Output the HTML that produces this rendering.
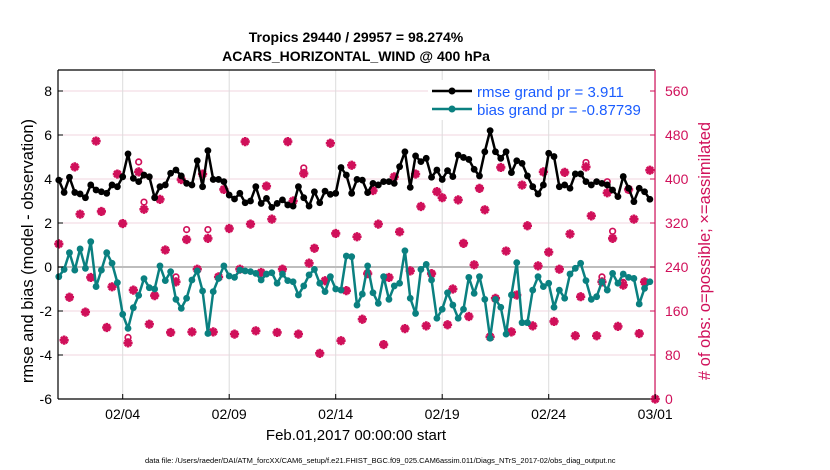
<!DOCTYPE html>
<html><head><meta charset="utf-8"><style>
body{margin:0;background:#fff;}
svg{display:block;font-family:"Liberation Sans",sans-serif;}
</style></head><body>
<svg id="chart" width="830" height="470" viewBox="0 0 830 470">
<text x="356" y="42" font-size="14" font-weight="bold" text-anchor="middle">Tropics 29440 / 29957 = 98.274%</text>
<text x="356" y="61" font-size="14" font-weight="bold" text-anchor="middle">ACARS_HORIZONTAL_WIND @ 400 hPa</text>
<g id="grid"></g>
<g id="marks"></g>
<g id="axes"></g>
<text transform="translate(33,251) rotate(-90)" font-size="16.5" text-anchor="middle">rmse and bias (model - observation)</text>
<text transform="translate(710,251) rotate(-90)" font-size="16.5" fill="#d0105a" text-anchor="middle"># of obs: o=possible; ×=assimilated</text>
<text x="356" y="440" font-size="15" text-anchor="middle">Feb.01,2017 00:00:00 start</text>
<text x="145" y="463" font-size="7.5">data file: /Users/raeder/DAI/ATM_forcXX/CAM6_setup/f.e21.FHIST_BGC.f09_025.CAM6assim.011/Diags_NTrS_2017-02/obs_diag_output.nc</text>
<g>
<rect x="428" y="80" width="222" height="40" fill="#fff"/>
<line x1="432" y1="91" x2="472" y2="91" stroke="#000" stroke-width="2.5"/>
<circle cx="452" cy="91" r="3.5" fill="#000"/>
<text x="477" y="97" font-size="15" fill="#1a5cff">rmse grand pr = 3.911</text>
<line x1="432" y1="109" x2="472" y2="109" stroke="#0a8080" stroke-width="2.5"/>
<circle cx="452" cy="109" r="3.5" fill="#0a8080"/>
<text x="477" y="115" font-size="15" fill="#1a5cff">bias grand pr = -0.87739</text>
</g>
</svg>
<script>
const xTickLabels = ["02/04","02/09","02/14","02/19","02/24","03/01"];
const xTickDays = [3,8,13,18,23,28];
const yLeftTicks = [-6,-4,-2,0,2,4,6,8];
const yRightTicks = [0,80,160,240,320,400,480,560];
const rmse = [3.95,3.39,4.08,3.39,3.32,3.15,3.73,3.5,3.42,3.35,3.73,3.65,4.1,5.14,4.03,3.88,4.18,4.1,3.15,3.65,3.73,4.26,4.41,4.14,3.8,3.73,4.83,3.65,5.29,
3.98,3.98,3.88,3.27,3.09,3.35,2.92,3.0,3.65,2.89,3.12,2.71,2.89,3.05,2.82,2.77,3.65,3.15,2.77,3.42,2.92,3.45,3.3,3.35,4.52,4.18,3.35,3.98,
3.95,3.38,3.8,3.73,3.88,3.88,3.8,4.56,5.24,3.62,5.05,4.79,4.94,4.08,4.41,3.98,4.38,4.11,5.09,4.98,4.89,4.44,4.14,5.24,6.2,5.24,4.94,5.24,
4.29,4.83,4.71,4.14,3.65,3.32,3.73,5.17,5.02,3.65,3.73,3.58,4.23,4.23,3.88,3.73,3.88,3.8,3.73,3.5,3.2,4.11,3.58,2.97,3.58,3.42,3.08];
const bias = [-0.44,-0.11,0.65,-0.14,0.82,-0.06,1.15,-0.89,-0.14,0.65,0.17,-0.71,-2.15,-2.79,-1.85,-1.29,-0.53,-0.94,-1.0,0.05,-0.62,-0.21,-1.47,-1.88,-1.42,-0.59,-0.18,-1.09,-3.02,
-1.12,-0.52,0.05,-0.41,-0.47,-0.14,-0.18,-0.21,-0.29,-0.59,-0.32,-0.26,-0.74,-0.32,-0.62,-0.67,-1.27,-0.86,-0.36,-0.11,-0.74,-1.12,-0.44,-1.0,-1.05,0.5,0.47,-1.73,
-1.23,0.05,-1.17,-1.65,-0.44,-1.47,-0.86,-0.74,0.74,-1.42,-2.11,-0.11,0.12,-0.59,-2.33,-1.92,-1.17,-1.73,-2.33,-1.92,-0.47,-1.2,-0.44,-1.47,-3.24,-1.47,-1.83,-3.05,
-1.27,0.2,-2.53,-2.53,-1.05,-0.44,-0.89,-0.74,-1.83,-1.05,-1.42,-0.32,-0.06,0.17,-0.62,-1.47,-1.35,-0.67,-1.05,-0.29,-0.74,-0.32,-0.47,-0.52,-1.68,-0.97,-0.67];
const obsAssimilated = [282,107,185,422,336,158,221,469,341,130,204,409,319,102,198,413,345,136,188,363,271,121,213,399,290,122,236,409,292,
122,222,381,310,118,236,468,318,124,230,387,327,121,236,468,360,118,410,247,274,83,215,465,301,106,197,425,295,
145,228,379,318,99,221,404,304,128,233,409,350,133,228,377,366,135,200,362,283,150,244,383,344,113,183,421,269,
122,189,389,315,133,242,413,267,141,236,412,300,115,186,422,333,115,213,375,292,132,207,381,327,119,213,416,0];
const obsPossible = [282,107,185,422,336,158,221,469,341,130,204,409,319,112,198,431,358,136,188,363,271,121,222,399,308,122,236,409,308,
122,222,381,310,118,236,468,318,124,230,387,327,121,236,468,360,118,420,247,274,83,215,465,301,106,197,425,295,
145,228,379,318,99,221,404,304,128,233,409,350,133,228,377,366,135,200,362,283,150,244,383,344,113,183,421,269,
122,189,389,315,133,242,413,267,141,236,412,300,115,186,430,333,115,222,395,305,132,212,381,327,119,213,416,0];

const NS="http://www.w3.org/2000/svg";
const X0=58.8, XPD=21.3, PL=58, PR=655, PT=70, PB=399;
const xOfIndex=i=>X0+i*XPD/4;
const xOfDay=d=>X0+d*XPD;
const yL=v=>267-22*v;
const yR=n=>399-n*0.55;
function mk(tag,attrs,parent){const e=document.createElementNS(NS,tag);for(const k in attrs)e.setAttribute(k,attrs[k]);parent.appendChild(e);return e;}
const grid=document.getElementById('grid'), marks=document.getElementById('marks'), axes=document.getElementById('axes');

yLeftTicks.forEach(v=>{ if(v===0) return;
  const l=mk('line',{x1:PL,x2:PR,y1:yL(v),y2:yL(v),stroke:'#f0d6df','stroke-width':1},grid);
  
  
});
xTickDays.forEach(d=>{
  const l=mk('line',{x1:xOfDay(d),x2:xOfDay(d),y1:PT,y2:PB,stroke:'#dcdcdc','stroke-width':1},grid);
  
  
});
const zl=mk('line',{x1:PL,x2:PR,y1:yL(0),y2:yL(0),stroke:'#bdbdbd','stroke-width':2},grid);



obsPossible.forEach((n,i)=>{
  const c=mk('circle',{cx:xOfIndex(i),cy:yR(n),r:2.8,fill:'none',stroke:'#d0105a','stroke-width':1.7},marks);
  
  
});
obsAssimilated.forEach((n,i)=>{
  const x=xOfIndex(i),y=yR(n),s=4.6,d=3.2;
  const g=mk('path',{d:`M${x-s},${y}H${x+s}M${x},${y-s}V${y+s}M${x-d},${y-d}L${x+d},${y+d}M${x-d},${y+d}L${x+d},${y-d}`,stroke:'#d0105a','stroke-width':2.6},marks);
  
  
});

function series(vals,color,name){
  const p=mk('polyline',{points:vals.map((v,i)=>xOfIndex(i)+','+yL(v)).join(' '),fill:'none',stroke:color,'stroke-width':2.5,'stroke-linejoin':'round'},marks);
  
  
  vals.forEach((v,i)=>{
    const c=mk('circle',{cx:xOfIndex(i),cy:yL(v),r:3.4,fill:color},marks);
    
    
  });
}
series(bias,'#0a8080','bias');
series(rmse,'#000','rmse');

const frame=[[PL,PT,PR,PT,'#000'],[PL,PT,PL,PB,'#000'],[PL,PB,PR,PB,'#000'],[PR,PT,PR,PB,'#d0105a']];
frame.forEach(f=>{
  const l=mk('line',{x1:f[0],y1:f[1],x2:f[2],y2:f[3],stroke:f[4],'stroke-width':1.2},axes);
  
  
});
yLeftTicks.forEach(v=>{
  const t=mk('line',{x1:PL,x2:PL+5,y1:yL(v),y2:yL(v),stroke:'#000'},axes);
  
  
  const tx=mk('text',{x:PL-6,y:yL(v)+5,'font-size':14,'text-anchor':'end'},axes);
  tx.textContent=v;
  
  
});
yRightTicks.forEach(n=>{
  const t=mk('line',{x1:PR-5,x2:PR,y1:yR(n),y2:yR(n),stroke:'#d0105a'},axes);
  
  
  const tx=mk('text',{x:PR+10,y:yR(n)+5,'font-size':14,fill:'#d0105a'},axes);
  tx.textContent=n;
  
  
});
xTickDays.forEach((d,k)=>{
  const t=mk('line',{x1:xOfDay(d),x2:xOfDay(d),y1:PB-5,y2:PB,stroke:'#000'},axes);
  
  
  const tx=mk('text',{x:xOfDay(d),y:419,'font-size':14,'text-anchor':'middle'},axes);
  tx.textContent=xTickLabels[k];
  
  
});
</script>
</body></html>
